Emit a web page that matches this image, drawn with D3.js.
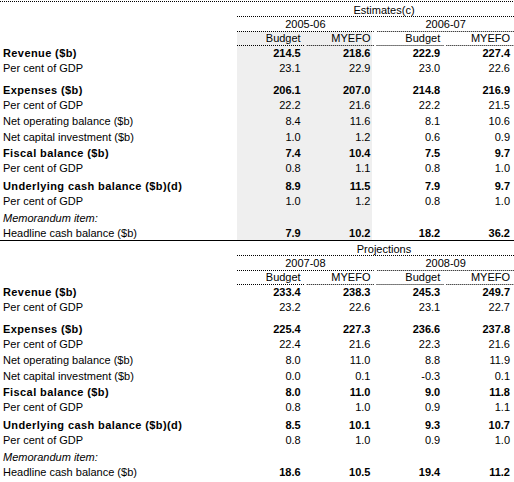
<!DOCTYPE html>
<html><head><meta charset="utf-8">
<script src="https://cdn.jsdelivr.net/npm/d3@7"></script>
<style>body{margin:0;background:#fff}text{font-family:"Liberation Sans",Arial,sans-serif;font-size:11px;fill:#000}</style>
</head><body><svg id="tbl" width="514" height="482"></svg>
<script>
// row labels and styles (b = bold, i = italic memo)
const rowLabels = ["Revenue ($b)", "Per cent of GDP", "Expenses ($b)", "Per cent of GDP",
  "Net operating balance ($b)", "Net capital investment ($b)", "Fiscal balance ($b)", "Per cent of GDP",
  "Underlying cash balance ($b)(d)", "Per cent of GDP", "Memorandum item:", "Headline cash balance ($b)"];
const rowKind = ["b", "n", "b", "n", "n", "n", "b", "n", "b", "n", "i", "hb"];
const rowY = [53, 68, 90, 105, 121, 137, 153, 168, 186, 201, 218, 233];
const columns = ["Budget", "MYEFO", "Budget", "MYEFO"];

const estYears = ["2005-06", "2006-07"];
const estValues = [
  ["214.5", "218.6", "222.9", "227.4"],
  ["23.1", "22.9", "23.0", "22.6"],
  ["206.1", "207.0", "214.8", "216.9"],
  ["22.2", "21.6", "22.2", "21.5"],
  ["8.4", "11.6", "8.1", "10.6"],
  ["1.0", "1.2", "0.6", "0.9"],
  ["7.4", "10.4", "7.5", "9.7"],
  ["0.8", "1.1", "0.8", "1.0"],
  ["8.9", "11.5", "7.9", "9.7"],
  ["1.0", "1.2", "0.8", "1.0"],
  null,
  ["7.9", "10.2", "18.2", "36.2"]];

const projYears = ["2007-08", "2008-09"];
const projValues = [
  ["233.4", "238.3", "245.3", "249.7"],
  ["23.2", "22.6", "23.1", "22.7"],
  ["225.4", "227.3", "236.6", "237.8"],
  ["22.4", "21.6", "22.3", "21.6"],
  ["8.0", "11.0", "8.8", "11.9"],
  ["0.0", "0.1", "-0.3", "0.1"],
  ["8.0", "11.0", "9.0", "11.8"],
  ["0.8", "1.0", "0.9", "1.1"],
  ["8.5", "10.1", "9.3", "10.7"],
  ["0.8", "1.0", "0.9", "1.0"],
  null,
  ["18.6", "10.5", "19.4", "11.2"]];

const svg = d3.select("#tbl");
const x = d3.scaleBand().domain(d3.range(4)).range([237, 514]).paddingInner(0.03);
const yearX = d3.scaleBand().domain([0, 1]).range([237, 514]).paddingInner(0.025);

function dotted(x1, x2, y) {
  svg.append("line").attr("x1", x1).attr("x2", x2).attr("y1", y).attr("y2", y)
    .attr("stroke", "#000").attr("stroke-width", 1).attr("stroke-dasharray", "1,1");
}

function block(off, title, years, values, shaded) {
  if (shaded) {
    svg.append("rect").attr("x", 237).attr("y", off + 31).attr("width", 135).attr("height", 209)
      .attr("fill", "#efefef");
  }
  svg.append("text").attr("x", 384).attr("y", off + 14).attr("text-anchor", "middle").text(title);
  dotted(237, 514, off + 16.5);
  years.forEach((yr, j) => {
    svg.append("text").attr("x", yearX(j) + yearX.bandwidth() / 2).attr("y", off + 28)
      .attr("text-anchor", "middle").text(yr);
    dotted(yearX(j), yearX(j) + yearX.bandwidth(), off + 31.5);
  });
  columns.forEach((c, k) => {
    svg.append("text").attr("x", x(k) + x.bandwidth() - 4).attr("y", off + 42)
      .attr("text-anchor", "end").text(c);
    dotted(x(k), x(k) + x.bandwidth(), off + 45.5);
  });
  rowLabels.forEach((lab, r) => {
    const k = rowKind[r];
    svg.append("text").attr("x", 3).attr("y", off + rowY[r] + 4)
      .style("font-weight", k === "b" ? "bold" : "normal")
      .style("font-style", k === "i" ? "italic" : "normal")
      .style("letter-spacing", k === "b" ? "0.4px" : null)
      .text(lab);
    if (!values[r]) return;
    values[r].forEach((v, c) => {
      svg.append("text").attr("x", x(c) + x.bandwidth() - 4).attr("y", off + rowY[r] + 4)
        .attr("text-anchor", "end")
        .style("font-weight", k === "b" || k === "hb" ? "bold" : "normal").text(v);
    });
  });
}

dotted(0, 514, 1.5);
block(0, "Estimates(c)", estYears, estValues, true);
svg.append("line").attr("x1", 0).attr("x2", 514).attr("y1", 240.5).attr("y2", 240.5).attr("stroke", "#000");
block(239, "Projections", projYears, projValues, false);
</script></body></html>
